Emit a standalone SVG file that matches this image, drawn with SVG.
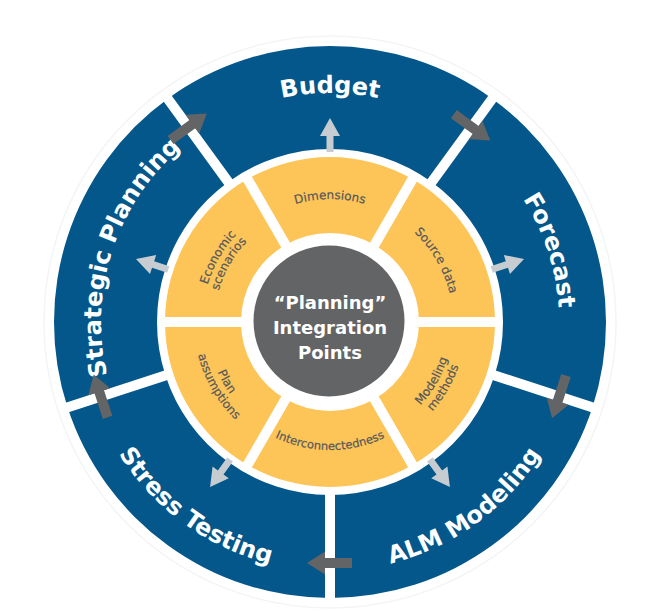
<svg xmlns="http://www.w3.org/2000/svg" width="651" height="611" viewBox="0 0 651 611">
<style>
.blue{fill:#03578a}
.yel{fill:#fdc558}
.sep{stroke:#ffffff;stroke-width:10;fill:none}
.outer{font-family:"DejaVu Sans",sans-serif;font-weight:bold;font-size:24px;fill:#ffffff}
.inner{font-family:"DejaVu Sans",sans-serif;font-size:12px;fill:#56575b;stroke:#56575b;stroke-width:0.2}
.center{font-family:"DejaVu Sans",sans-serif;font-weight:bold;font-size:18px;fill:#ffffff;text-anchor:middle}
.darr{fill:#636466}
.larr{fill:#c6ccd0}
</style>
<defs>
<path id="pBudget" d="M 131.68 207.5 A 229 229 0 0 1 528.32 207.5"/>
<path id="pForecast" d="M 377.61 98.01 A 229 229 0 0 1 500.18 475.23"/>
<path id="pStrategic" d="M 159.82 475.23 A 229 229 0 0 1 282.39 98.01"/>
<path id="pALM" d="M 228.72 549.47 A 249 249 0 0 0 577.64 295.97"/>
<path id="pStress" d="M 82.36 295.97 A 249 249 0 0 0 431.28 549.47"/>
<path id="pDim" d="M 235.78 242.94 A 123 123 0 0 1 424.22 242.94"/>
<path id="pSrc" d="M 351.36 200.87 A 123 123 0 0 1 445.58 364.07"/>
<path id="pEco1" d="M 209.72 365.78 A 128 128 0 0 1 307.77 195.94"/>
<path id="pEco2" d="M 221.47 361.84 A 115.5 115.5 0 0 1 309.94 208.26"/>
<path id="pInt" d="M 231.95 404.28 A 128 128 0 0 0 428.05 404.28"/>
<path id="pMod1" d="M 351.36 443.13 A 123 123 0 0 0 445.58 279.93"/>
<path id="pMod2" d="M 353.62 455.93 A 136 136 0 0 0 457.80 275.49"/>
<path id="pPlan1" d="M 214.42 279.93 A 123 123 0 0 0 308.64 443.13"/>
<path id="pPlan2" d="M 202.20 275.49 A 136 136 0 0 0 306.38 455.93"/>
<polygon id="da" points="-22,-5 5,-5 5,-11.5 23,0 5,11.5 5,5 -22,5"/>
<polygon id="la" points="326.5,152 326.5,136 320,136 330,118 340,136 333.5,136 333.5,152"/>
</defs>
<rect x="0" y="0" width="651" height="611" fill="#ffffff"/>
<circle cx="330" cy="322" r="286" fill="none" stroke="#f3f4f5" stroke-width="1.5"/>

<g id="budget">
<path class="blue" d="M 167.77 98.71 A 276 276 0 0 1 492.23 98.71 L 431.69 182.04 A 173 173 0 0 0 228.31 182.04 Z"/>
<text class="outer"><textPath href="#pBudget" startOffset="50%" text-anchor="middle">Budget</textPath></text>
</g>
<g id="forecast">
<path class="blue" d="M 492.23 98.71 A 276 276 0 0 1 592.49 407.29 L 494.53 375.46 A 173 173 0 0 0 431.69 182.04 Z"/>
<text class="outer"><textPath href="#pForecast" startOffset="50%" text-anchor="middle">Forecast</textPath></text>
</g>
<g id="alm-modeling">
<path class="blue" d="M 592.49 407.29 A 276 276 0 0 1 330 598 L 330 495 A 173 173 0 0 0 494.53 375.46 Z"/>
<text class="outer"><textPath href="#pALM" startOffset="50%" text-anchor="middle">ALM Modeling</textPath></text>
</g>
<g id="stress-testing">
<path class="blue" d="M 330 598 A 276 276 0 0 1 67.51 407.29 L 165.47 375.46 A 173 173 0 0 0 330 495 Z"/>
<text class="outer"><textPath href="#pStress" startOffset="50%" text-anchor="middle">Stress Testing</textPath></text>
</g>
<g id="strategic-planning">
<path class="blue" d="M 67.51 407.29 A 276 276 0 0 1 167.77 98.71 L 228.31 182.04 A 173 173 0 0 0 165.47 375.46 Z"/>
<text class="outer"><textPath href="#pStrategic" startOffset="50%" text-anchor="middle">Strategic Planning</textPath></text>
</g>

<g id="dimensions">
<path class="yel" d="M 247.5 179.11 A 165 165 0 0 1 412.5 179.11 L 374.5 244.92 A 89 89 0 0 0 285.5 244.92 Z"/>
<text class="inner"><textPath href="#pDim" startOffset="50%" text-anchor="middle">Dimensions</textPath></text>
</g>
<g id="source-data">
<path class="yel" d="M 412.5 179.11 A 165 165 0 0 1 495 322 L 419 322 A 89 89 0 0 0 374.5 244.92 Z"/>
<text class="inner"><textPath href="#pSrc" startOffset="50%" text-anchor="middle">Source data</textPath></text>
</g>
<g id="modeling-methods">
<path class="yel" d="M 495 322 A 165 165 0 0 1 412.5 464.89 L 374.5 399.08 A 89 89 0 0 0 419 322 Z"/>
<text class="inner"><textPath href="#pMod1" startOffset="50%" text-anchor="middle">Modeling</textPath></text>
<text class="inner"><textPath href="#pMod2" startOffset="50%" text-anchor="middle">methods</textPath></text>
</g>
<g id="interconnectedness">
<path class="yel" d="M 412.5 464.89 A 165 165 0 0 1 247.5 464.89 L 285.5 399.08 A 89 89 0 0 0 374.5 399.08 Z"/>
<text class="inner" style="font-size:11.5px"><textPath href="#pInt" startOffset="50%" text-anchor="middle">Interconnectedness</textPath></text>
</g>
<g id="plan-assumptions">
<path class="yel" d="M 247.5 464.89 A 165 165 0 0 1 165 322 L 241 322 A 89 89 0 0 0 285.5 399.08 Z"/>
<text class="inner"><textPath href="#pPlan1" startOffset="50%" text-anchor="middle">Plan</textPath></text>
<text class="inner"><textPath href="#pPlan2" startOffset="50%" text-anchor="middle">assumptions</textPath></text>
</g>
<g id="economic-scenarios">
<path class="yel" d="M 165 322 A 165 165 0 0 1 247.5 179.11 L 285.5 244.92 A 89 89 0 0 0 241 322 Z"/>
<text class="inner"><textPath href="#pEco1" startOffset="50%" text-anchor="middle">Economic</textPath></text>
<text class="inner"><textPath href="#pEco2" startOffset="50%" text-anchor="middle">scenarios</textPath></text>
</g>

<g id="separators">
<line class="sep" x1="429.92" y1="184.47" x2="495.76" y2="93.86"/>
<line class="sep" x1="491.68" y1="374.53" x2="598.20" y2="409.14"/>
<line class="sep" x1="330" y1="492" x2="330" y2="604"/>
<line class="sep" x1="168.32" y1="374.53" x2="61.80" y2="409.14"/>
<line class="sep" x1="230.08" y1="184.47" x2="164.24" y2="93.86"/>
<line class="sep" x1="372" y1="249.25" x2="414" y2="176.51"/>
<line class="sep" x1="414" y1="322" x2="498" y2="322"/>
<line class="sep" x1="372" y1="394.75" x2="414" y2="467.49"/>
<line class="sep" x1="288" y1="394.75" x2="246" y2="467.49"/>
<line class="sep" x1="246" y1="322" x2="162" y2="322"/>
<line class="sep" x1="288" y1="249.25" x2="246" y2="176.51"/>
</g>

<g id="center">
<circle cx="329" cy="321" r="75.5" fill="#636466"/>
<text class="center" x="330" y="309">“Planning”</text>
<text class="center" x="330" y="334">Integration</text>
<text class="center" x="330" y="359">Points</text>
</g>

<g id="connectors">
<use href="#da" class="darr" transform="rotate(324 330 322) translate(330 81)"/>
<use href="#da" class="darr" transform="rotate(36 330 322) translate(330 81)"/>
<use href="#da" class="darr" transform="rotate(108 330 322) translate(330 81)"/>
<use href="#da" class="darr" transform="rotate(180 330 322) translate(330 81)"/>
<use href="#da" class="darr" transform="rotate(252 330 322) translate(330 81)"/>
<use href="#la" class="larr"/>
<use href="#la" class="larr" transform="rotate(72 330 322)"/>
<use href="#la" class="larr" transform="rotate(144 330 322)"/>
<use href="#la" class="larr" transform="rotate(216 330 322)"/>
<use href="#la" class="larr" transform="rotate(288 330 322)"/>
</g>
</svg>
